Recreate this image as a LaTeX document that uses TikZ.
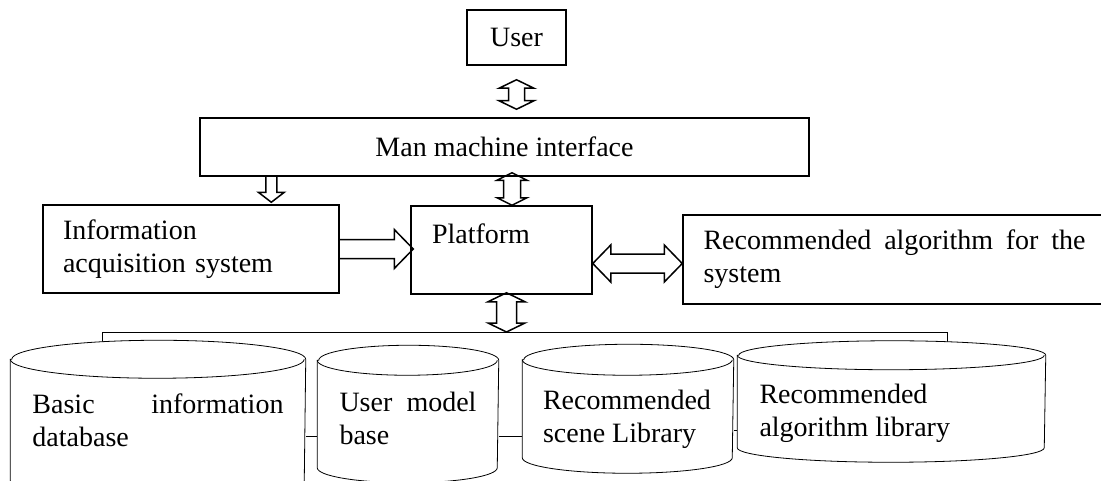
\documentclass[tikz,border=0pt]{standalone}
\usepackage{fontspec}
\setmainfont{Liberation Serif}
\usepackage{tikz}
\usetikzlibrary{calc, backgrounds}
\hyphenpenalty=10000
\tolerance=10000
% database drum drawn round a named body node (#4: top raised by)
\newcommand{\dbcyl}[4]{%
  \draw[fill=white] ([yshift=#4]#1.north west) -- (#1.south west)
    arc[start angle=180, end angle=360, x radius=#2, y radius=#3]
    -- ([yshift=#4]#1.north east)
    arc[start angle=0, end angle=180, x radius=#2, y radius=#3] -- cycle;
  \draw ([yshift=#4]#1.north west) arc[start angle=180, end angle=360, x radius=#2, y radius=#3];}

\begin{document}
\begin{tikzpicture}[x=0.5pt, y=-0.5pt, line width=0.75pt,
    txt/.style={font=\fontsize{14}{16.5}\selectfont},
    box/.style={draw, txt, inner sep=0pt},
    db/.style={txt, inner sep=0pt, align=justify},
    vdbl/.style n args={3}{to path={let \p1=(\tikztostart), \p2=(\tikztotarget) in
      (\x1,\y1) -- (\x1+#1,\y1-#3) -- (\x1+#2,\y1-#3) -- (\x1+#2,\y2+#3) -- (\x1+#1,\y2+#3)
      -- (\x1,\y2) -- (\x1-#1,\y2+#3) -- (\x1-#2,\y2+#3) -- (\x1-#2,\y1-#3) -- (\x1-#1,\y1-#3) -- cycle}},
    hdbl/.style n args={3}{to path={let \p1=(\tikztostart), \p2=(\tikztotarget) in
      (\x1,\y1) -- (\x1+#3,\y1+#1) -- (\x1+#3,\y1+#2) -- (\x2-#3,\y1+#2) -- (\x2-#3,\y1+#1)
      -- (\x2,\y1) -- (\x2-#3,\y1-#1) -- (\x2-#3,\y1-#2) -- (\x1+#3,\y1-#2) -- (\x1+#3,\y1-#1) -- cycle}},
    vsgl/.style n args={3}{to path={let \p1=(\tikztostart), \p2=(\tikztotarget) in
      (\x1-#2,\y1) -- (\x1-#2,\y2+#3) -- (\x1-#1,\y2+#3) -- (\x1,\y2)
      -- (\x1+#1,\y2+#3) -- (\x1+#2,\y2+#3) -- (\x1+#2,\y1)}},
    hsgl/.style n args={3}{to path={let \p1=(\tikztostart), \p2=(\tikztotarget) in
      (\x1,\y1+#2) -- (\x2-#3,\y1+#2) -- (\x2-#3,\y1+#1) -- (\x2,\y1)
      -- (\x2-#3,\y1-#1) -- (\x2-#3,\y1-#2) -- (\x1,\y1-#2)}}]
  \useasboundingbox (0,0) rectangle (1101,481);

  % User and interface
  \node[box, minimum width=49.5pt, minimum height=27.5pt] (user) at (516.5,37.5) {User};
  \node[box, minimum width=304.5pt, minimum height=29pt] (mmi) at (504.5,147) {Man machine interface};

  % middle row
  \node[box, minimum width=148pt, minimum height=44pt, text width=128pt, align=left]
    (info) at (191,249) {Information acquisition system};
  \node[box, minimum width=90.5pt, minimum height=44pt, text width=69.5pt, align=left]
    (plat) at (501.5,250) {Platform\\\mbox{}};
  \node[box, minimum width=211.5pt, minimum height=44.5pt, text width=191pt, align=justify]
    (rec) at (894.5,259.5) {Recommended algorithm for the system};

  % databases
  \node[db, minimum width=147pt, minimum height=60pt, text width=125.5pt]
    (basic) at (158,420) {Basic information database};
  \node[db, minimum width=90pt, minimum height=49pt, text width=68.5pt]
    (umodel) at (408,418) {User model base};
  \node[db, minimum width=105pt, minimum height=38pt, text width=85pt]
    (scene) at (628,419) {Recommended scene Library};
  \node[db, minimum width=153.5pt, minimum height=33.5pt, text width=132pt]
    (alglib) at (891.5,413.5) {Recommended algorithm library};

  \coordinate (busL) at (102,332);
  \coordinate (busR) at (947,332);
  \coordinate (infoin) at ($(info.north west)!0.77!(info.north east)$);
  \coordinate (platin) at ([xshift=5.25pt]plat.north);
  \coordinate (platout) at ([xshift=2.5pt,yshift=1pt]plat.south);
  \coordinate (recin) at ([yshift=-2pt]rec.west);

  \begin{scope}[on background layer]
    % bus and links
    \draw (busL |- basic.north) -- (busL) -- (busR) -- (busR |- alglib.north);
    \draw ([yshift=-8pt]basic.east) -- ([yshift=-8pt]basic.east -| umodel.west);
    \draw ([yshift=-9pt]umodel.east) -- ([yshift=-9pt]umodel.east -| scene.west);
    \draw ([yshift=-5.5pt]scene.east) -- ([yshift=-5.5pt]scene.east -| alglib.west);
    \dbcyl{basic}{73.5pt}{9.5pt}{0pt}
    \dbcyl{umodel}{45pt}{7.5pt}{4pt}
    \dbcyl{scene}{52.5pt}{7.75pt}{10.25pt}
    \dbcyl{alglib}{76.75pt}{7.25pt}{12pt}
  \end{scope}

  % block arrows
  \draw[vdbl={8.75pt}{4pt}{4.25pt}] ([yshift=-7pt]user.south) to ([yshift=4pt]mmi.north);
  \draw[vsgl={6.5pt}{2.75pt}{5pt}] (infoin |- mmi.south) to ([yshift=1pt]infoin);
  \draw[vdbl={7.5pt}{4.25pt}{3.75pt}] ([yshift=2pt]mmi.south -| platin) to (platin);
  \draw[hsgl={9.75pt}{4.75pt}{9.5pt}] (info.east) to ([xshift=1.5pt]plat.west |- info.east);
  \draw[hdbl={9.25pt}{4.75pt}{9pt}] (plat.east |- recin) to (recin);
  \draw[vdbl={9.25pt}{5pt}{4.5pt}] (platout) to (platout |- busL);
\end{tikzpicture}
\end{document}
